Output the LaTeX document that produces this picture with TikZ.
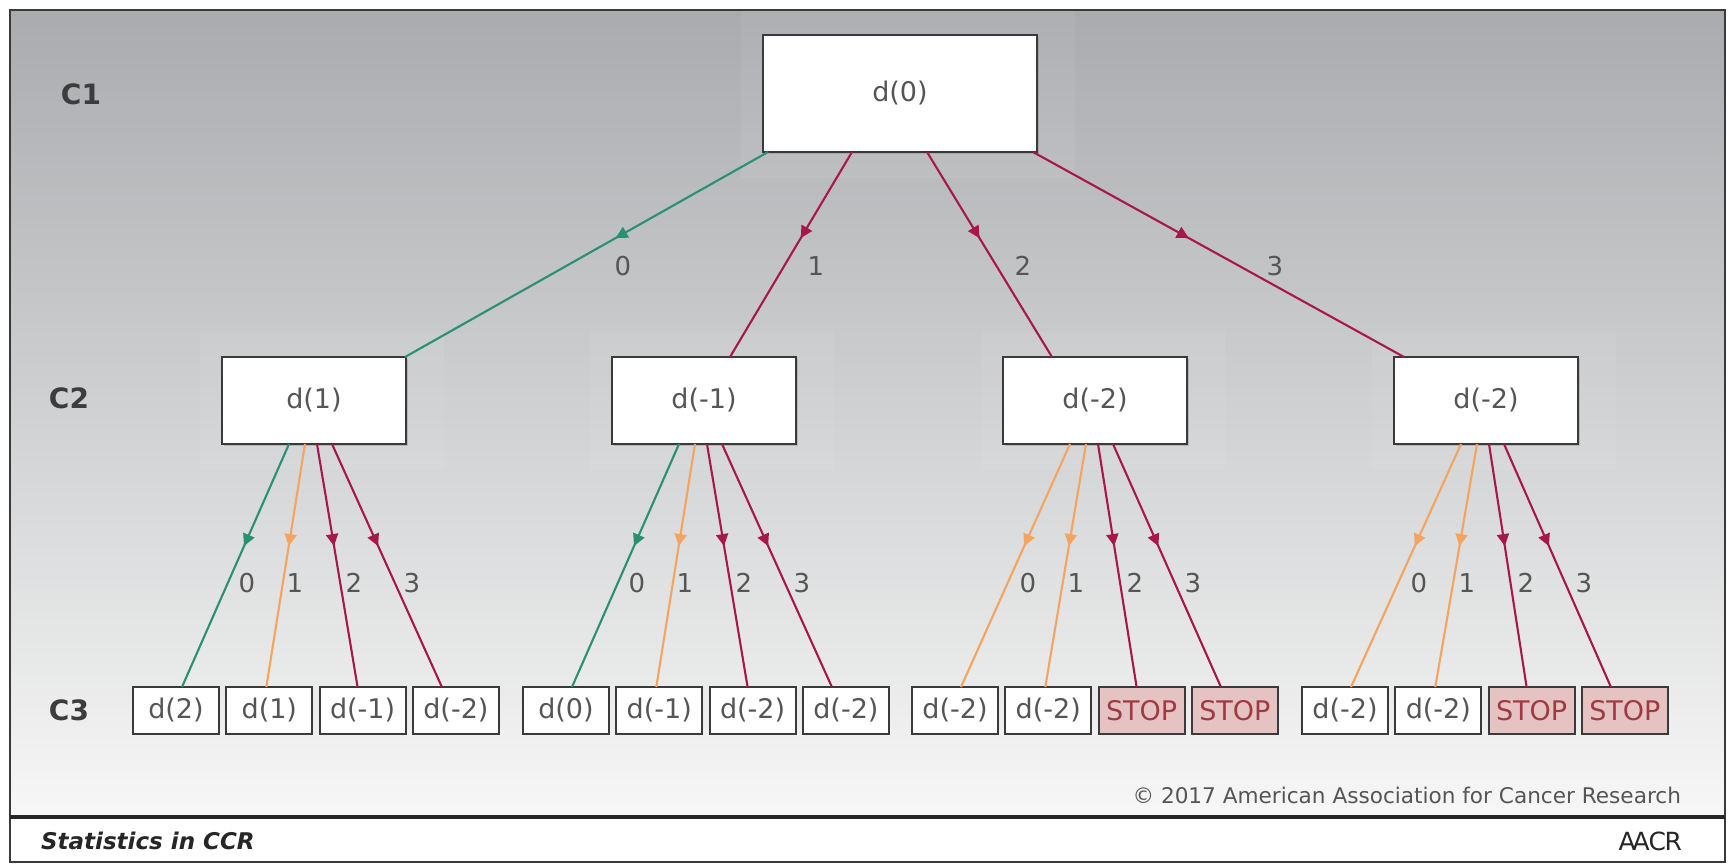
\documentclass[tikz,border=0pt]{standalone}
\usepackage{fontspec}
\setmainfont{DejaVu Sans}
\usepackage{xcolor}
\usepackage{tikz}
\usetikzlibrary{arrows.meta,positioning,calc,shadows,decorations.markings}

\definecolor{edgegreen}{HTML}{2A9072}
\definecolor{edgered}{HTML}{A8174A}
\definecolor{edgeorange}{HTML}{F4A45E}
\definecolor{stopfill}{HTML}{E6C3C3}
\definecolor{stoptext}{HTML}{A03A42}
\definecolor{boxline}{HTML}{3A3A3A}
\definecolor{textgray}{HTML}{555555}
\definecolor{rowgray}{HTML}{3C3C3C}
\definecolor{bgtop}{HTML}{A9ABAE}
\definecolor{bgmid}{HTML}{D0D2D4}
\definecolor{bgbot}{HTML}{F7F7F7}

\newcommand\boxfont{\fontsize{13.5}{16}\selectfont}
\newcommand\lblfont{\fontsize{13}{15}\selectfont}
\newcommand\rowfont{\fontsize{14}{16}\selectfont\bfseries}

\pgfdeclarelayer{background}
\pgfsetlayers{background,main}

\tikzset{
  box/.style={draw=boxline, fill=white, line width=1pt, inner sep=0pt,
    outer sep=0pt, font=\boxfont, text=textgray},
  bigbox/.style={box, minimum width=137pt, minimum height=58.5pt,
    drop shadow={shadow xshift=1.2pt, shadow yshift=-1.2pt, opacity=.35}},
  midbox/.style={box, minimum width=92pt, minimum height=43.5pt,
    drop shadow={shadow xshift=1.2pt, shadow yshift=-1.2pt, opacity=.35}},
  leafbox/.style={box, minimum width=43pt, minimum height=23.5pt},
  stopbox/.style={leafbox, fill=stopfill, text=stoptext},
  link/.style={line width=1.05pt, postaction={decorate},
    decoration={markings, mark=at position .42 with
      {\arrow{Triangle[length=6pt,width=6pt]}}}},
  lbl/.style={font=\lblfont, text=textgray},
  rowlbl/.style={font=\rowfont, text=rowgray},
}

\begin{document}
\begin{tikzpicture}[x=0.5pt, y=-0.5pt]
  \useasboundingbox (0,0) rectangle (1729,863);

  % Panel background and footer
  \begin{pgfonlayer}{background}
    \shade[top color=bgtop, middle color=bgmid, bottom color=bgbot]
      (10,10) rectangle (1725,817);
    \fill[white] (10,817) rectangle (1725,862);
  \end{pgfonlayer}
  \draw[boxline, line width=1pt] (10,10) rectangle (1725,862);
  \draw[black!85, line width=2pt] (10,817) -- (1725,817);

  % Row labels
  \node[rowlbl] (r1) at (81,94) {C1};
  \node[rowlbl] (r2) at (69,398) {C2};
  \node[rowlbl] (r3) at (69,710) {C3};

  % C1 and C2
  \node[bigbox] (d0) at (900,93.5) {d(0)};
  \node[midbox] (b1) at (314,400.5) {d(1)};
  \node[midbox] (b2) at (704,400.5) {d(-1)};
  \node[midbox] (b3) at (1095,400.5) {d(-2)};
  \node[midbox] (b4) at (1486,400.5) {d(-2)};

  % soft glow round the upper boxes
  \begin{pgfonlayer}{background}
    \foreach \n in {d0,b1,b2,b3,b4} {
      \fill[white, opacity=.06] ($(\n.south west)+(-22,26)$)
        rectangle ($(\n.north east)+(38,-26)$);
    }
  \end{pgfonlayer}

  % C3, group 1
  \node[leafbox] (l1-1) at (176,710.5) {d(2)};
  \node[leafbox, right=3.65pt of l1-1] (l1-2) {d(1)};
  \node[leafbox, right=3.65pt of l1-2] (l1-3) {d(-1)};
  \node[leafbox, right=3.65pt of l1-3] (l1-4) {d(-2)};
  % C3, group 2
  \node[leafbox] (l2-1) at (566,710.5) {d(0)};
  \node[leafbox, right=3.65pt of l2-1] (l2-2) {d(-1)};
  \node[leafbox, right=3.65pt of l2-2] (l2-3) {d(-2)};
  \node[leafbox, right=3.65pt of l2-3] (l2-4) {d(-2)};
  % C3, group 3
  \node[leafbox] (l3-1) at (955,710.5) {d(-2)};
  \node[leafbox, right=3.65pt of l3-1] (l3-2) {d(-2)};
  \node[stopbox, right=3.65pt of l3-2] (l3-3) {STOP};
  \node[stopbox, right=3.65pt of l3-3] (l3-4) {STOP};
  % C3, group 4
  \node[leafbox] (l4-1) at (1345,710.5) {d(-2)};
  \node[leafbox, right=3.65pt of l4-1] (l4-2) {d(-2)};
  \node[stopbox, right=3.65pt of l4-2] (l4-3) {STOP};
  \node[stopbox, right=3.65pt of l4-3] (l4-4) {STOP};

  % C1 -> C2
  \draw[link, edgegreen] ($(d0.south)+(-132,0)$) -- ($(b1.north)+(91,0)$);
  \draw[link, edgered] ($(d0.south)+(-48,0)$) -- ($(b2.north)+(26,0)$);
  \draw[link, edgered] ($(d0.south)+(27,0)$) -- ($(b3.north)+(-43,0)$);
  \draw[link, edgered] ($(d0.south)+(133,0)$) -- ($(b4.north)+(-82,0)$);
  \node[lbl] (e0) at (623,266) {0};
  \node[lbl] (e1) at (816,266) {1};
  \node[lbl] (e2) at (1023,266) {2};
  \node[lbl] (e3) at (1275,266) {3};

  % C2 -> C3
  \foreach \g/\cx/\ca in {1/314/edgegreen, 2/704/edgegreen,
                          3/1095/edgeorange, 4/1486/edgeorange} {
    \draw[link, \ca] ($(b\g.south)+(-25,0)$) -- ($(l\g-1.north)+(6,0)$);
    \draw[link, edgeorange] ($(b\g.south)+(-9,0)$) -- ($(l\g-2.north)+(-3,0)$);
    \draw[link, edgered] ($(b\g.south)+(3,0)$) -- ($(l\g-3.north)+(-5,0)$);
    \draw[link, edgered] ($(b\g.south)+(18,0)$) -- ($(l\g-4.north)+(-14,0)$);
    \node[lbl] (n\g-0) at (\cx-67,583) {0};
    \node[lbl] (n\g-1) at (\cx-19,583) {1};
    \node[lbl] (n\g-2) at (\cx+40,583) {2};
    \node[lbl] (n\g-3) at (\cx+98,583) {3};
  }

  % Footer texts
  \node[anchor=east, font=\fontsize{10.8}{13}\selectfont, text=textgray]
    (copy) at (1688,795) {\textcopyright{} 2017 American Association for Cancer Research};
  \node[anchor=west, font=\fontsize{11.5}{14}\selectfont\bfseries\itshape, text=black!85]
    (jrnl) at (34,841) {Statistics in CCR};
  \node[anchor=east, font=\fontsize{12.5}{14}\selectfont, text=black!85]
    (aacr) at (1689,841) {A\kern-1.5pt A\kern-0.5pt C\kern-0.8pt R};
\end{tikzpicture}
\end{document}
